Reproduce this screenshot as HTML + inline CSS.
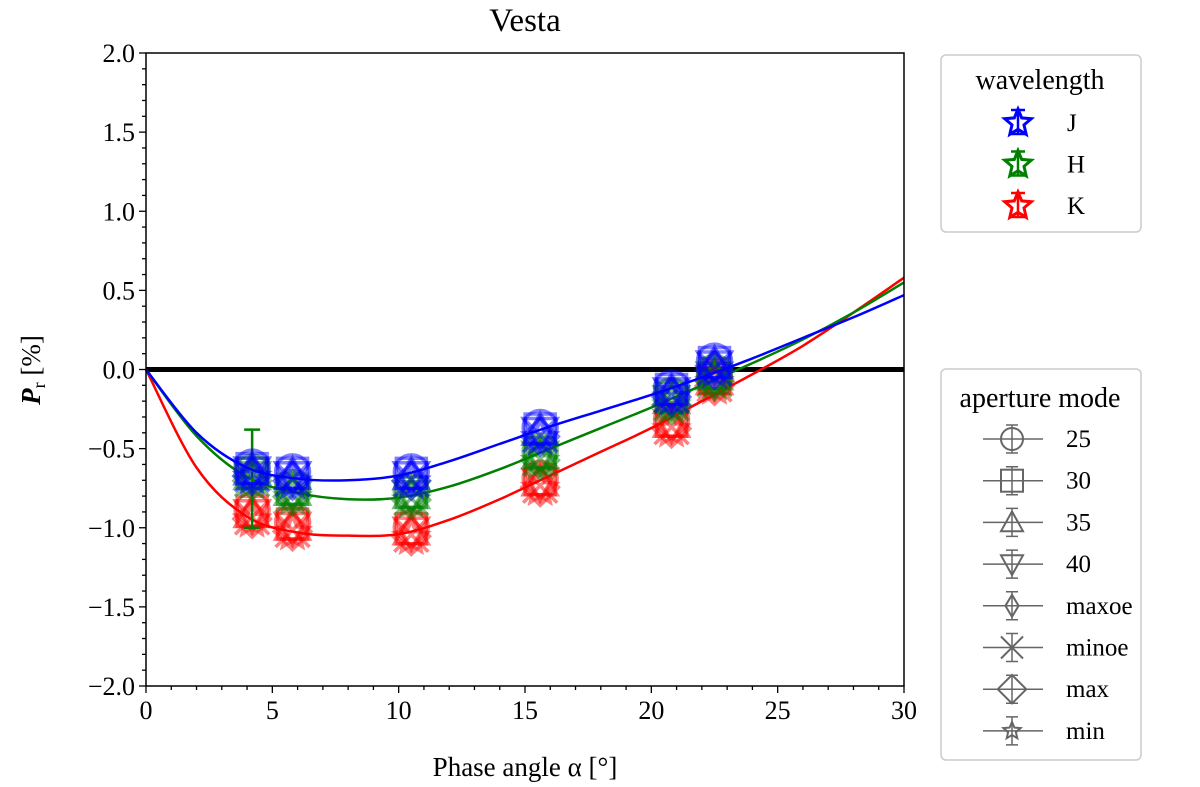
<!DOCTYPE html>
<html><head><meta charset="utf-8"><style>
html,body{margin:0;padding:0;background:#fff;}
svg{display:block;font-family:"Liberation Serif","DejaVu Serif",serif;}
</style></head><body>
<svg id="chart" width="1200" height="787" viewBox="0 0 1200 787" xmlns="http://www.w3.org/2000/svg">
<text x="525" y="31" font-size="33" text-anchor="middle">Vesta</text>
<g id="plot"></g>
<text x="525" y="776" font-size="27" text-anchor="middle">Phase angle α [°]</text>
<text transform="translate(40,370) rotate(-90)" font-size="27" text-anchor="middle"><tspan font-style="italic" font-weight="bold">P</tspan><tspan font-size="18" dy="5">r</tspan><tspan dy="-5"> [%]</tspan></text>
<g>
<rect x="941" y="55" width="200" height="177" rx="5" fill="#fff" stroke="#ccc" stroke-width="1.5"/>
<text x="1040" y="89" font-size="28" text-anchor="middle">wavelength</text>
<g id="wl"></g>
</g>
<g>
<rect x="941" y="369" width="200" height="391" rx="5" fill="#fff" stroke="#ccc" stroke-width="1.5"/>
<text x="1040" y="407" font-size="28" text-anchor="middle">aperture mode</text>
<g id="ap"></g>
</g>
</svg>
<script>
const xs = [4.2, 5.8, 10.5, 15.6, 20.8, 22.5];
const seriesJ = [-0.65, -0.68, -0.68, -0.40, -0.15, 0.02];
const seriesH = [-0.68, -0.78, -0.80, -0.55, -0.20, -0.05];
const seriesK = [-0.92, -1.00, -1.03, -0.72, -0.35, -0.08];
const fitX = [0, 2, 4, 6, 8, 10, 12, 14, 16, 18, 20, 22, 24, 26, 28, 30];
const fitJ = [0, -0.40, -0.62, -0.69, -0.70, -0.67, -0.58, -0.47, -0.36, -0.26, -0.16, -0.05, 0.07, 0.20, 0.33, 0.47];
const fitH = [0, -0.42, -0.68, -0.78, -0.82, -0.81, -0.74, -0.63, -0.50, -0.37, -0.24, -0.10, 0.04, 0.19, 0.36, 0.55];
const fitK = [0, -0.62, -0.93, -1.03, -1.05, -1.04, -0.95, -0.82, -0.67, -0.52, -0.37, -0.20, -0.03, 0.15, 0.36, 0.58];
const xTicks = [0, 5, 10, 15, 20, 25, 30];
const yTicks = [-2.0, -1.5, -1.0, -0.5, 0.0, 0.5, 1.0, 1.5, 2.0];
const waveNames = ["J", "H", "K"];
const apNames = ["25", "30", "35", "40", "maxoe", "minoe", "max", "min"];

const NS = "http://www.w3.org/2000/svg";
const X0 = 146, X1 = 904, Y0 = 686, Y1 = 53;
const sx = v => X0 + (v - 0) / 30 * (X1 - X0);
const sy = v => Y0 - (v + 2) / 4 * (Y0 - Y1);
function mk(parent, tag, attrs) { const e = document.createElementNS(NS, tag); for (const k in attrs) e.setAttribute(k, attrs[k]); parent.appendChild(e); return e; }
const plot = document.getElementById("plot");
function fmt(v){ const s = Math.abs(v).toFixed(1); return v < 0 ? "\u2212" + s : s; }

for (let v = 0; v <= 30; v += 1) {
  const t = mk(plot, "line", {x1: sx(v), x2: sx(v), y1: Y0, y2: Y0 + (v % 5 === 0 ? 7 : 4), stroke: "#000", "stroke-width": 1.3});
  
  
}
for (let i = -20; i <= 20; i += 1) {
  const v = i / 10;
  const t = mk(plot, "line", {x1: X0, x2: X0 - (i % 5 === 0 ? 7 : 4), y1: sy(v), y2: sy(v), stroke: "#000", "stroke-width": 1.3});
  
  
}
xTicks.forEach(v => {
  const t = mk(plot, "text", {x: sx(v), y: Y0 + 33, "font-size": 26, "text-anchor": "middle"});
  t.textContent = v;
  
  
});
yTicks.forEach(v => {
  const t = mk(plot, "text", {x: X0 - 11, y: sy(v) + 9, "font-size": 26, "text-anchor": "end"});
  t.textContent = fmt(v);
  
  
});

const zl = mk(plot, "line", {x1: X0, x2: X1, y1: sy(0), y2: sy(0), stroke: "#000", "stroke-width": 5});



function smoothPath(xa, ya) {
  const p = xa.map((x, i) => [sx(x), sy(ya[i])]);
  let d = "M" + p[0][0] + "," + p[0][1];
  for (let i = 0; i < p.length - 1; i++) {
    const p0 = p[Math.max(i - 1, 0)], p1 = p[i], p2 = p[i + 1], p3 = p[Math.min(i + 2, p.length - 1)];
    const c1 = [p1[0] + (p2[0] - p0[0]) / 6, p1[1] + (p2[1] - p0[1]) / 6];
    const c2 = [p2[0] - (p3[0] - p1[0]) / 6, p2[1] - (p3[1] - p1[1]) / 6];
    d += " C" + c1 + " " + c2 + " " + p2;
  }
  return d;
}
function marker(g, shape, cx, cy, color, r, op, sw) {
  let e;
  const a = {fill: "none", stroke: color, "stroke-width": sw || 3, "stroke-opacity": op};
  if (shape === "square") e = mk(g, "rect", Object.assign({x: cx - r, y: cy - r, width: 2 * r, height: 2 * r}, a));
  else if (shape === "circle") e = mk(g, "circle", Object.assign({cx, cy, r}, a));
  else if (shape === "diamond") e = mk(g, "polygon", Object.assign({points: `${cx},${cy - r * 1.3} ${cx + r * 1.3},${cy} ${cx},${cy + r * 1.3} ${cx - r * 1.3},${cy}`}, a));
  else if (shape === "thin") e = mk(g, "polygon", Object.assign({points: `${cx},${cy - r} ${cx + r * 0.6},${cy} ${cx},${cy + r} ${cx - r * 0.6},${cy}`}, a));
  else if (shape === "up") e = mk(g, "polygon", Object.assign({points: `${cx},${cy - r} ${cx + r},${cy + r * 0.8} ${cx - r},${cy + r * 0.8}`}, a));
  else if (shape === "down") e = mk(g, "polygon", Object.assign({points: `${cx},${cy + r} ${cx + r},${cy - r * 0.8} ${cx - r},${cy - r * 0.8}`}, a));
  else if (shape === "x") e = mk(g, "path", Object.assign({d: `M${cx - r},${cy - r}L${cx + r},${cy + r}M${cx + r},${cy - r}L${cx - r},${cy + r}`}, a));
  else {
    let pts = [];
    for (let k = 0; k < 10; k++) { const rr = k % 2 ? r * 0.45 : r; const ang = -Math.PI / 2 + k * Math.PI / 5; pts.push((cx + rr * Math.cos(ang)).toFixed(1) + "," + (cy + rr * Math.sin(ang)).toFixed(1)); }
    e = mk(g, "polygon", Object.assign({points: pts.join(" ")}, a));
  }
  return e;
}

const colors = ["#0000ff", "#008000", "#ff0000"];
const series = [seriesJ, seriesH, seriesK];
const fits = [fitJ, fitH, fitK];
const shapes = ["circle", "square", "up", "down", "thin", "x", "diamond", "star"];
[2, 1, 0].forEach(si => {
  const g = mk(plot, "g", {});
  
  
  const path = mk(g, "path", {d: smoothPath(fitX, fits[si]), fill: "none", stroke: colors[si], "stroke-width": 2.5});
  
  
  xs.forEach((x, i) => {
    const cx = sx(x), cy = sy(series[si][i]);
    shapes.forEach((s, k) => {
      const m = marker(g, s, cx, cy + (k - 3.5) * 1.5, colors[si], s === "square" ? 15 : (s === "diamond" ? 14 : 17), 0.5, 3.5);
      
      
    });
    if (si === 1 && i === 0) {
      mk(g, "path", {d: `M${cx},${sy(-0.38)}V${sy(-1.0)}M${cx - 8},${sy(-0.38)}H${cx + 8}M${cx - 8},${sy(-1.0)}H${cx + 8}`, stroke: colors[si], "stroke-width": 2.5, fill: "none"});
    }
  });
});

const fr = mk(plot, "rect", {x: X0, y: Y1, width: X1 - X0, height: Y0 - Y1, fill: "none", stroke: "#000", "stroke-width": 1.5});



const wl = document.getElementById("wl");
waveNames.forEach((n, i) => {
  const y = 122 + i * 41.5;
  const g = mk(wl, "g", {});
  
  
  mk(g, "path", {d: `M1018,${y - 12}V${y + 12}M1011,${y - 12}H1025M1011,${y + 12}H1025`, stroke: colors[i], "stroke-width": 2.5, fill: "none"});
  marker(g, "star", 1018, y + 1, colors[i], 14, 1, 3);
  const t = mk(g, "text", {x: 1067, y: y + 9, "font-size": 25});
  t.textContent = n;
});
const ap = document.getElementById("ap");
apNames.forEach((n, i) => {
  const y = 439 + i * 41.7;
  const g = mk(ap, "g", {});
  
  
  mk(g, "path", {d: `M983,${y}H1043M1012,${y - 14}V${y + 14}M1006,${y - 14}H1018M1006,${y + 14}H1018`, stroke: "#666", "stroke-width": 1.5, fill: "none"});
  marker(g, shapes[i], 1012, y, "#666", shapes[i] === "star" ? 9 : 11, 1, 2);
  const t = mk(g, "text", {x: 1066, y: y + 8, "font-size": 25});
  t.textContent = n;
});
</script>
</body></html>
